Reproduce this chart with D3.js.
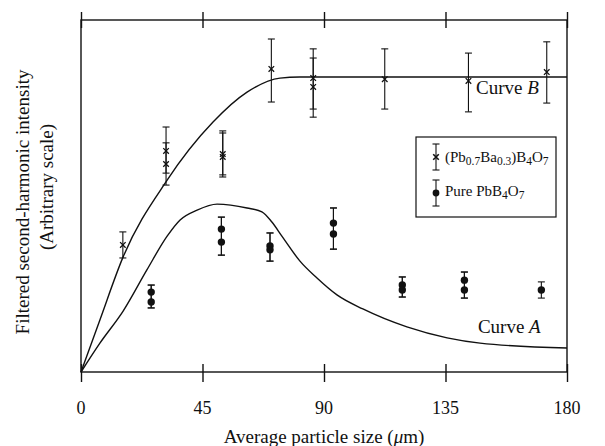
<!DOCTYPE html>
<html>
<head>
<meta charset="utf-8">
<script src="https://cdn.jsdelivr.net/npm/d3@7"></script>
<style>
  body { margin: 0; background: #fff; }
  svg text { font-family: "Liberation Serif", "Times New Roman", serif; fill: #111; }
</style>
</head>
<body>
<div id="chart"></div>
<script>
// x ticks (particle size, um)
const xTicks = [0, 45, 90, 135, 180];

// (Pb0.7Ba0.3)B4O7 measurements: size, intensity, error bar low/high
const crossX  = [15.5, 31.5, 31.5, 52.5, 52.5, 70.5, 86, 86, 112.5, 143.5, 172.5];
const crossY  = [36.1, 62.8, 59.1, 61.9, 61.1, 86.1, 83.5, 81.0, 83.2, 82.7, 85.2];
const crossLo = [32.4, 56.5, 53.1, 55.4, 56.0, 76.7, 74.7, 72.4, 74.7, 73.9, 76.4];
const crossHi = [39.8, 69.6, 65.1, 68.5, 67.9, 94.6, 91.8, 89.2, 91.8, 90.6, 93.8];

// Pure PbB4O7 measurements
const dotX  = [26, 26, 52, 52, 70, 70, 93.5, 93.5, 119, 119, 142, 142, 170.5];
const dotY  = [22.7, 19.9, 40.6, 36.9, 35.8, 34.7, 42.3, 39.2, 24.7, 23.3, 26.1, 23.3, 23.3];
const dotLo = [18.2, 18.2, 33.2, 33.2, 31.5, 31.5, 34.9, 34.9, 21.3, 21.3, 21.0, 21.0, 21.0];
const dotHi = [24.7, 24.7, 44.0, 44.0, 39.5, 39.5, 46.6, 46.6, 27.0, 27.0, 28.4, 28.4, 25.6];

// model curves
const curveBX = [0, 7, 15.6, 31.9, 48.9, 61.5, 73.7, 81, 100, 180];
const curveBY = [0, 14.8, 32.7, 54.5, 71.0, 79.5, 83.5, 83.8, 83.8, 83.8];
const curveAX = [0, 7, 15.6, 24.4, 31.9, 36.7, 43, 50.4, 61.5, 67, 70.7, 74.4, 81.1, 87.4, 94.8, 104.4, 120.7, 135.6, 147.8, 180];
const curveAY = [0, 8.2, 17.3, 29.0, 38.6, 43.2, 46.0, 47.7, 46.6, 45.5, 42.6, 38.6, 31.5, 26.7, 21.9, 17.9, 12.8, 9.7, 8.2, 6.8];

const margin = {top: 20, right: 38, bottom: 74, left: 81},
      width = 605 - margin.left - margin.right,
      height = 446 - margin.top - margin.bottom;

const svg = d3.select("#chart").append("svg")
    .attr("width", 605)
    .attr("height", 446)
  .append("g")
    .attr("transform", `translate(${margin.left},${margin.top})`);

const x = d3.scaleLinear().domain([0, 180]).range([0, width]);
const y = d3.scaleLinear().domain([0, 100]).range([height, 0]);

// frame
svg.append("rect")
  .attr("width", width).attr("height", height)
  .attr("fill", "none").attr("stroke", "#111").attr("stroke-width", 1.4);

// ticks crossing the bottom and top lines
function ticks(gen, ty, size) {
  const g = svg.append("g")
    .attr("transform", `translate(0,${ty})`)
    .call(gen(x).tickValues(xTicks).tickSize(size).tickFormat(""));
  g.select(".domain").remove();
  g.selectAll("line").attr("stroke", "#111").attr("stroke-width", 1.4);
  return g;
}
ticks(d3.axisBottom, height, 10);
ticks(d3.axisTop, height, 8);
ticks(d3.axisTop, 0, 8);
ticks(d3.axisBottom, 0, 8);

// tick labels
svg.selectAll(".xlab").data(xTicks).join("text")
  .attr("x", d => x(d)).attr("y", height + 42)
  .attr("text-anchor", "middle").attr("font-size", 18)
  .text(d => d);

// axis titles
const xt = svg.append("text")
  .attr("x", width / 2).attr("y", height + 71)
  .attr("text-anchor", "middle").attr("font-size", 19);
xt.append("tspan").text("Average particle size (");
xt.append("tspan").attr("font-style", "italic").text("\u03bc");
xt.append("tspan").text("m)");

svg.append("text")
  .attr("transform", `translate(${22 - margin.left},${202 - margin.top}) rotate(-90)`)
  .attr("text-anchor", "middle").attr("dy", "0.35em").attr("font-size", 19)
  .text("Filtered second-harmonic intensity");
svg.append("text")
  .attr("transform", `translate(${46 - margin.left},${187 - margin.top}) rotate(-90)`)
  .attr("text-anchor", "middle").attr("dy", "0.35em").attr("font-size", 19)
  .text("(Arbitrary scale)");

// curves
const line = d3.line()
  .x(d => x(d[0])).y(d => y(d[1]))
  .curve(d3.curveMonotoneX);
[[curveBX, curveBY], [curveAX, curveAY]].forEach(([cx, cy]) => {
  svg.append("path")
    .datum(d3.zip(cx, cy))
    .attr("fill", "none").attr("stroke", "#111").attr("stroke-width", 1.4)
    .attr("d", line);
});

// error bars
function errorBars(xs, lo, hi) {
  const g = svg.append("g").attr("stroke", "#111").attr("stroke-width", 1.1);
  xs.forEach((v, i) => {
    g.append("line").attr("x1", x(v)).attr("x2", x(v)).attr("y1", y(lo[i])).attr("y2", y(hi[i]));
    [lo[i], hi[i]].forEach(e => {
      g.append("line").attr("x1", x(v) - 3.5).attr("x2", x(v) + 3.5).attr("y1", y(e)).attr("y2", y(e));
    });
  });
}
errorBars(crossX, crossLo, crossHi);
errorBars(dotX, dotLo, dotHi);

// markers
const cross = d3.symbol().type(d3.symbolX).size(22);
svg.append("g").selectAll("path").data(d3.zip(crossX, crossY)).join("path")
  .attr("transform", d => `translate(${x(d[0])},${y(d[1])})`)
  .attr("d", cross).attr("fill", "none").attr("stroke", "#111").attr("stroke-width", 1.3);

svg.append("g").selectAll("circle").data(d3.zip(dotX, dotY)).join("circle")
  .attr("cx", d => x(d[0])).attr("cy", d => y(d[1])).attr("r", 3.7)
  .attr("fill", "#111");

// curve labels
function curveLabel(lx, ly, letter) {
  const t = svg.append("text").attr("x", x(lx)).attr("y", y(ly)).attr("font-size", 19);
  t.append("tspan").text("Curve ");
  t.append("tspan").attr("font-style", "italic").text(letter);
}
curveLabel(146.3, 79.0, "B");
curveLabel(147, 11.1, "A");

// legend
const lg = svg.append("g").attr("transform", `translate(${416 - margin.left},${137 - margin.top})`);
lg.append("rect").attr("width", 140).attr("height", 80)
  .attr("fill", "#fff").attr("stroke", "#111").attr("stroke-width", 1.2);

function legendBar(cy) {
  lg.append("line").attr("x1", 20).attr("x2", 20).attr("y1", cy - 13).attr("y2", cy + 13)
    .attr("stroke", "#111").attr("stroke-width", 1.1);
  [cy - 13, cy + 13].forEach(e => lg.append("line")
    .attr("x1", 16.5).attr("x2", 23.5).attr("y1", e).attr("y2", e)
    .attr("stroke", "#111").attr("stroke-width", 1.1));
}
legendBar(20);
lg.append("path").attr("transform", "translate(20,20)").attr("d", cross)
  .attr("fill", "none").attr("stroke", "#111").attr("stroke-width", 1.6);
legendBar(56);
lg.append("circle").attr("cx", 20).attr("cy", 56).attr("r", 3.4).attr("fill", "#111");

function sub(t, s) {
  t.append("tspan").attr("dy", 3).attr("font-size", 11.5).text(s);
  return t.append("tspan").attr("dy", -3);
}
const l1 = lg.append("text").attr("x", 29).attr("y", 25).attr("font-size", 15);
l1.append("tspan").text("(Pb");
sub(l1, "0.7").text("Ba");
sub(l1, "0.3").text(")B");
sub(l1, "4").text("O");
sub(l1, "7");

const l2 = lg.append("text").attr("x", 29).attr("y", 59).attr("font-size", 15);
l2.append("tspan").text("Pure PbB");
sub(l2, "4").text("O");
sub(l2, "7");
</script>
</body>
</html>
